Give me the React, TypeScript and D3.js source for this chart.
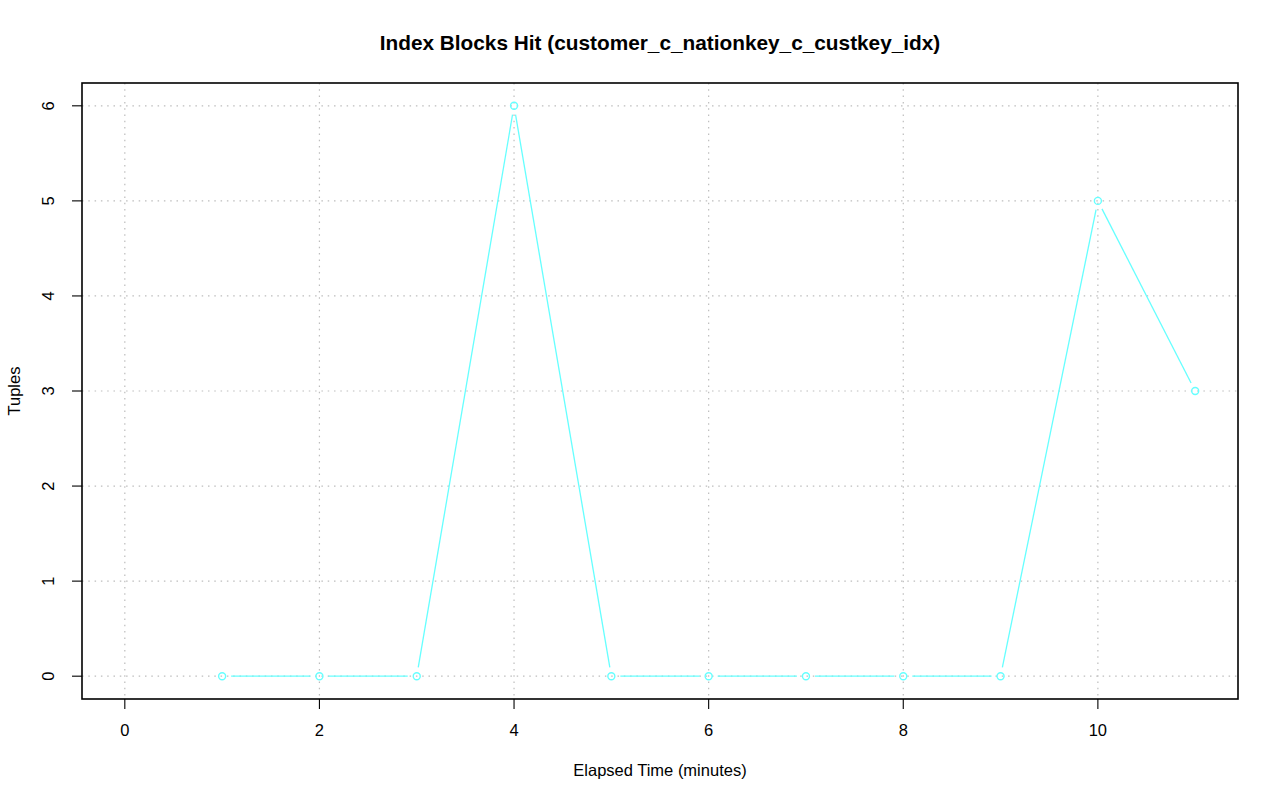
import React from "react";
import * as d3 from "d3";

const minutes = [1, 2, 3, 4, 5, 6, 7, 8, 9, 10, 11];
const tuples = [0, 0, 0, 6, 0, 0, 0, 0, 0, 5, 3];
const xTicks = [0, 2, 4, 6, 8, 10];
const yTicks = [0, 1, 2, 3, 4, 5, 6];
const title = "Index Blocks Hit (customer_c_nationkey_c_custkey_idx)";
const xLabel = "Elapsed Time (minutes)";
const yLabel = "Tuples";

export default function App() {
  const W = 1280, H = 801;
  const left = 82, right = 1238, top = 83, bottom = 699;
  const x = d3.scaleLinear().domain([-0.44, 11.44]).range([left, right]);
  const y = d3.scaleLinear().domain([-0.24, 6.24]).range([bottom, top]);
  const col = "#66ffff";
  const gap = 9;
  const pts = minutes.map((m, i) => [x(m), y(tuples[i])]);
  const segs = [] as { x1: number; y1: number; x2: number; y2: number }[];
  for (let i = 0; i < pts.length - 1; i++) {
    const [ax, ay] = pts[i];
    const [bx, by] = pts[i + 1];
    const dx = bx - ax, dy = by - ay;
    const len = Math.hypot(dx, dy);
    if (len <= 2 * gap) continue;
    const ux = dx / len, uy = dy / len;
    segs.push({ x1: ax + ux * gap, y1: ay + uy * gap, x2: bx - ux * gap, y2: by - uy * gap });
  }
  const font = "'Liberation Sans', Arial, Helvetica, sans-serif";
  const fs = 16.5;
  return (
    <svg width={W} height={H} style={{ position: "absolute", left: 0, top: 0, background: "#fff" }} fontFamily={font}>
      <rect x={0} y={0} width={W} height={H} fill="#fff" />
      {xTicks.map((t) => (
        <line key={"gx" + t} x1={x(t)} x2={x(t)} y1={top} y2={bottom} stroke="#bdbdbd" strokeDasharray="1.5,4.8" strokeWidth={1.2} />
      ))}
      {yTicks.map((t) => (
        <line key={"gy" + t} x1={left} x2={right} y1={y(t)} y2={y(t)} stroke="#bdbdbd" strokeDasharray="1.5,4.8" strokeWidth={1.2} />
      ))}
      {segs.map((s, i) => (
        <line key={"s" + i} {...s} stroke={col} strokeWidth={1.3} />
      ))}
      {pts.map(([px, py], i) => (
        <circle key={"p" + i} cx={px} cy={py} r={3.5} fill="none" stroke={col} strokeWidth={1.4} />
      ))}
      <rect x={left} y={top} width={right - left} height={bottom - top} fill="none" stroke="#000" strokeWidth={1.6} />
      {xTicks.map((t) => (
        <g key={"xt" + t}>
          <line x1={x(t)} x2={x(t)} y1={bottom} y2={bottom + 10} stroke="#000" strokeWidth={1.1} />
          <text x={x(t)} y={736} textAnchor="middle" fontSize={fs}>{t}</text>
        </g>
      ))}
      {yTicks.map((t) => (
        <g key={"yt" + t}>
          <line x1={left - 10} x2={left} y1={y(t)} y2={y(t)} stroke="#000" strokeWidth={1.1} />
          <text transform={`translate(54,${y(t)}) rotate(-90)`} textAnchor="middle" fontSize={fs}>{t}</text>
        </g>
      ))}
      <text x={(left + right) / 2} y={50} textAnchor="middle" fontSize={20.8} fontWeight="bold">{title}</text>
      <text x={(left + right) / 2} y={776} textAnchor="middle" fontSize={fs}>{xLabel}</text>
      <text transform={`translate(20,${(top + bottom) / 2}) rotate(-90)`} textAnchor="middle" fontSize={fs}>{yLabel}</text>
    </svg>
  );
}
